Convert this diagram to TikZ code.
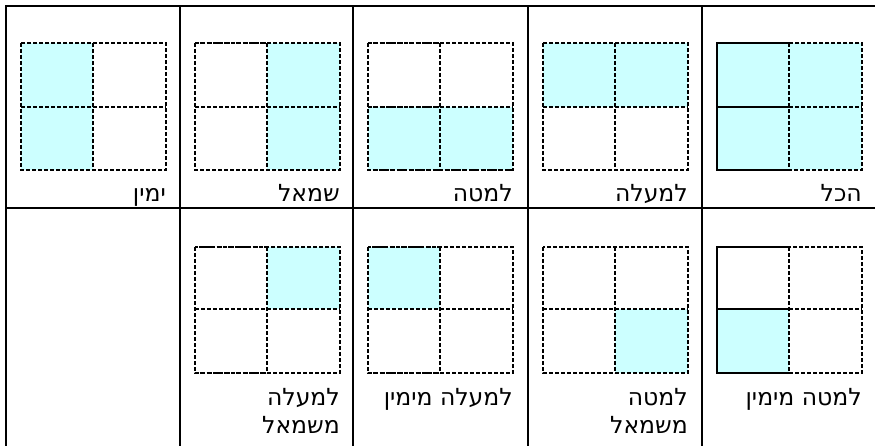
\documentclass[tikz,border=0pt]{standalone}
\usepackage{fontspec}
\newfontfamily\heb[Script=Hebrew]{DejaVu Sans}
\TeXXeTstate=1
\definecolor{paleaqua}{HTML}{CCFFFF}
\definecolor{inkblack}{HTML}{000000}
\usetikzlibrary{positioning}

\begin{document}
\begin{tikzpicture}[x=1pt, y=-1pt,
  tabline/.style={draw=inkblack, line width=2.8pt},
  gridline/.style={draw=inkblack, line width=2pt, dash pattern=on 4pt off 2pt},
  dotline/.style={draw=inkblack, line width=2pt, dash pattern=on 3pt off 1.5pt on 1.2pt off 1.5pt},
  solidline/.style={draw=inkblack, line width=2pt},
  quad/.style={fill=paleaqua},
  lbl/.style={font={\heb\fontsize{23.5}{28}\selectfont}, inner sep=0pt, anchor=base east, align=right}]
\useasboundingbox (0,0) rectangle (875,446);

% table rules
\draw[tabline] (6,446) -- (6,6) -- (875,6);
\draw[tabline] (6,208) -- (875,208);
\draw[tabline] (180,6) -- (180,446);
\draw[tabline] (353,6) -- (353,446);
\draw[tabline] (528,6) -- (528,446);
\draw[tabline] (702,6) -- (702,446);

% row 1
\begin{scope}[shift={(717,43)}]
  \fill[quad] (0,0) rectangle (145,127);
  \draw[gridline] (0,0) rectangle (145,127) (72,0) -- (72,127) (0,64) -- (145,64);
  \draw[solidline] (72,0) -- (0,0) -- (0,127) -- (72,127) (0,64) -- (72,64);
\end{scope}
\node[lbl] (all) at (862,202) {\beginR הכל\endR};

\begin{scope}[shift={(543,43)}]
  \fill[quad] (0,0) rectangle (145,64);
  \draw[gridline] (0,0) rectangle (145,127) (72,0) -- (72,127) (0,64) -- (145,64);
\end{scope}
\node[lbl] (up) at (688,202) {\beginR למעלה\endR};

\begin{scope}[shift={(368,43)}]
  \fill[quad] (0,64) rectangle (145,127);
  \draw[gridline] (0,0) rectangle (145,127) (72,0) -- (72,127) (0,64) -- (145,64);
  \draw[dotline] (0,0) -- (72,0) (0,64) -- (72,64) (0,127) -- (145,127);
\end{scope}
\node[lbl] (down) at (513,202) {\beginR למטה\endR};

\begin{scope}[shift={(195,43)}]
  \fill[quad] (72,0) rectangle (145,127);
  \draw[gridline] (0,0) rectangle (145,127) (72,0) -- (72,127) (0,64) -- (145,64);
  \draw[dotline] (0,0) -- (72,0);
\end{scope}
\node[lbl] (left) at (340,202) {\beginR שמאל\endR};

\begin{scope}[shift={(21,43)}]
  \fill[quad] (0,0) rectangle (72,127);
  \draw[gridline] (0,0) rectangle (145,127) (72,0) -- (72,127) (0,64) -- (145,64);
\end{scope}
\node[lbl] (right) at (166,202) {\beginR ימין\endR};

% row 2
\begin{scope}[shift={(717,247)}]
  \fill[quad] (0,62) rectangle (72,126);
  \draw[gridline] (0,0) rectangle (145,126) (72,0) -- (72,126) (0,62) -- (145,62);
  \draw[solidline] (72,0) -- (0,0) -- (0,126) -- (72,126) (0,62) -- (72,62);
\end{scope}
\node[lbl] (downright) at (862,405) {\beginR למטה מימין\endR};

\begin{scope}[shift={(543,247)}]
  \fill[quad] (72,62) rectangle (145,126);
  \draw[gridline] (0,0) rectangle (145,126) (72,0) -- (72,126) (0,62) -- (145,62);
\end{scope}
\node[lbl] (downleft) at (688,433) {\beginR למטה\endR\\\beginR משמאל\endR};

\begin{scope}[shift={(368,247)}]
  \fill[quad] (0,0) rectangle (72,62);
  \draw[gridline] (0,0) rectangle (145,126) (72,0) -- (72,126) (0,62) -- (145,62);
  \draw[dotline] (0,0) -- (72,0) (0,126) -- (72,126);
\end{scope}
\node[lbl] (upright) at (513,405) {\beginR למעלה מימין\endR};

\begin{scope}[shift={(195,247)}]
  \fill[quad] (72,0) rectangle (145,62);
  \draw[gridline] (0,0) rectangle (145,126) (72,0) -- (72,126) (0,62) -- (145,62);
  \draw[dotline] (0,0) -- (72,0) (0,126) -- (72,126);
\end{scope}
\node[lbl] (upleft) at (340,433) {\beginR למעלה\endR\\\beginR משמאל\endR};
\end{tikzpicture}
\end{document}
